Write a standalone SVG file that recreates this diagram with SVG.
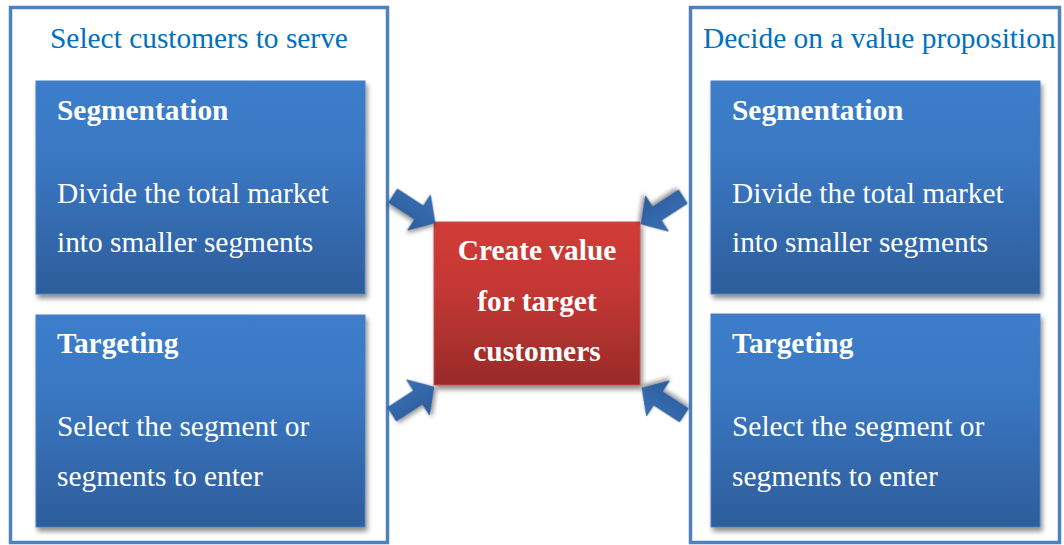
<svg xmlns="http://www.w3.org/2000/svg" width="1064" height="545" viewBox="0 0 1064 545">
<style>
.outer{fill:#ffffff;stroke:#4f81bd;stroke-width:3.5}
.title{font-family:"Liberation Serif","Times New Roman",serif;font-size:29.4px;fill:#0070c0}
.card{fill:url(#blueGrad);stroke:#4a7ebf;stroke-width:1;filter:url(#shadow)}
.head{font-family:"Liberation Serif","Times New Roman",serif;font-size:29.4px;font-weight:bold;fill:#ffffff}
.body{font-family:"Liberation Serif","Times New Roman",serif;font-size:29.4px;fill:#ffffff}
.center{fill:url(#redGrad);stroke:#c0504d;stroke-width:1;filter:url(#shadow)}
.ctext{font-family:"Liberation Serif","Times New Roman",serif;font-size:29.4px;font-weight:bold;fill:#ffffff;text-anchor:middle}
.arrow{fill:url(#arrowGrad);stroke:#2a5790;stroke-width:0.8;filter:url(#shadow2)}
</style>
<defs>
<linearGradient id="blueGrad" x1="0" y1="0" x2="0" y2="1">
<stop offset="0" stop-color="#3c7dcb"/>
<stop offset="0.35" stop-color="#3a78c3"/>
<stop offset="1" stop-color="#2d5d9b"/>
</linearGradient>
<linearGradient id="redGrad" x1="0" y1="0" x2="0" y2="1">
<stop offset="0" stop-color="#d13b37"/>
<stop offset="0.4" stop-color="#c43835"/>
<stop offset="1" stop-color="#992a28"/>
</linearGradient>
<linearGradient id="arrowGrad" x1="0" y1="0" x2="0" y2="1">
<stop offset="0" stop-color="#3a70b7"/>
<stop offset="1" stop-color="#2c5c9a"/>
</linearGradient>
<filter id="shadow" x="-10%" y="-10%" width="125%" height="125%">
<feGaussianBlur in="SourceAlpha" stdDeviation="2.5"/>
<feOffset dx="2" dy="4" result="b"/>
<feComponentTransfer><feFuncA type="linear" slope="0.45"/></feComponentTransfer>
<feMerge><feMergeNode/><feMergeNode in="SourceGraphic"/></feMerge>
</filter>
<filter id="shadow2" x="-30%" y="-30%" width="160%" height="160%">
<feGaussianBlur in="SourceAlpha" stdDeviation="2"/>
<feOffset dx="1" dy="3" result="b"/>
<feComponentTransfer><feFuncA type="linear" slope="0.4"/></feComponentTransfer>
<feMerge><feMergeNode/><feMergeNode in="SourceGraphic"/></feMerge>
</filter>
<path id="blockArrow" d="M0,0 L-19,-21 L-19,-8 L-50,-8 L-50,8 L-19,8 L-19,21 Z"/>
</defs>

<g id="left-panel">
<rect class="outer" x="10.5" y="7.5" width="377" height="535"/>
<text class="title" x="50" y="48">Select customers to serve</text>
</g>
<g id="left-segmentation">
<rect class="card" x="36" y="81" width="329" height="213"/>
<text class="head" x="57" y="120">Segmentation</text>
<text class="body" x="57" y="203">Divide the total market</text>
<text class="body" x="57" y="252">into smaller segments</text>
</g>
<g id="left-targeting">
<rect class="card" x="36" y="315" width="329" height="212"/>
<text class="head" x="57" y="353">Targeting</text>
<text class="body" x="57" y="436">Select the segment or</text>
<text class="body" x="57" y="486">segments to enter</text>
</g>

<g id="right-panel">
<rect class="outer" x="690.5" y="7.5" width="369" height="535"/>
<text class="title" x="703" y="48">Decide on a value proposition</text>
</g>
<g id="right-segmentation">
<rect class="card" x="711" y="81" width="329" height="213"/>
<text class="head" x="732" y="120">Segmentation</text>
<text class="body" x="732" y="203">Divide the total market</text>
<text class="body" x="732" y="252">into smaller segments</text>
</g>
<g id="right-targeting">
<rect class="card" x="711" y="314" width="329" height="213"/>
<text class="head" x="732" y="353">Targeting</text>
<text class="body" x="732" y="436">Select the segment or</text>
<text class="body" x="732" y="486">segments to enter</text>
</g>

<g id="center-node">
<rect class="center" x="434" y="222" width="206" height="163"/>
<text class="ctext" x="537" y="260">Create value</text>
<text class="ctext" x="537" y="311">for target</text>
<text class="ctext" x="537" y="361">customers</text>
</g>

<g id="connectors">
<use href="#blockArrow" class="arrow" transform="translate(435,223) rotate(33)"/>
<use href="#blockArrow" class="arrow" transform="translate(434,387) rotate(-33)"/>
<use href="#blockArrow" class="arrow" transform="translate(641,224) rotate(147)"/>
<use href="#blockArrow" class="arrow" transform="translate(642,388) rotate(-147)"/>
</g>
</svg>
